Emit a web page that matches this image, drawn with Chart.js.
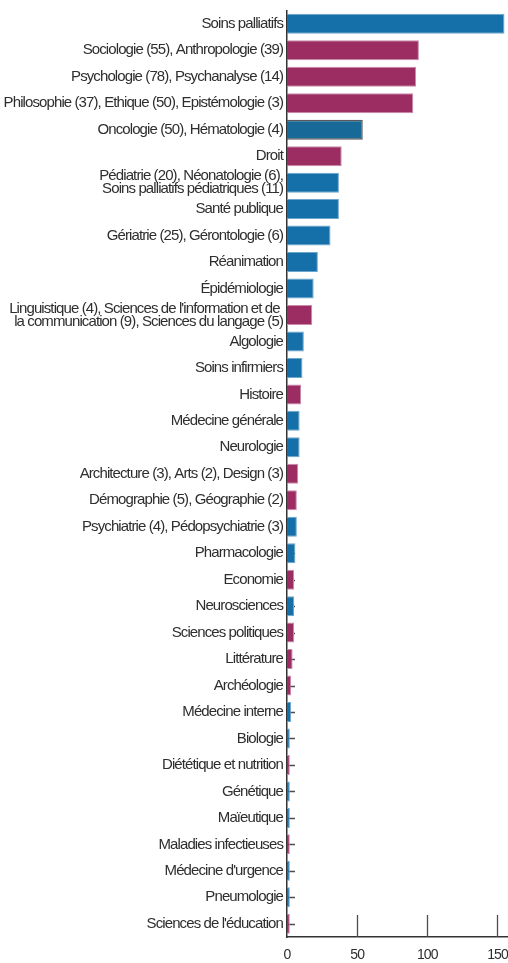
<!DOCTYPE html>
<html lang="fr">
<head>
<meta charset="utf-8">
<title>Disciplines</title>
<script src="https://cdn.jsdelivr.net/npm/chart.js@4.4.0/dist/chart.umd.min.js"></script>
<style>
    html, body { margin: 0; padding: 0; background: #ffffff; }
    canvas { display: block; }
</style>
</head>
<body>
<canvas id="chart" width="508" height="963"></canvas>
<script>
// Disciplines (les libellés longs passent à la ligne avec \n)
const categories = [
    'Soins palliatifs',
    'Sociologie (55), Anthropologie (39)',
    'Psychologie (78), Psychanalyse (14)',
    'Philosophie (37), Ethique (50), Epistémologie (3)',
    'Oncologie (50), Hématologie (4)',
    'Droit',
    'Pédiatrie (20), Néonatologie (6),\nSoins palliatifs pédiatriques (11)',
    'Santé publique',
    'Gériatrie (25), Gérontologie (6)',
    'Réanimation',
    'Épidémiologie',
    "Linguistique (4), Sciences de l'information et de \nla communication (9), Sciences du langage (5)",
    'Algologie',
    'Soins infirmiers',
    'Histoire',
    'Médecine générale',
    'Neurologie',
    'Architecture (3), Arts (2), Design (3)',
    'Démographie (5), Géographie (2)',
    'Psychiatrie (4), Pédopsychiatrie (3)',
    'Pharmacologie',
    'Economie',
    'Neurosciences',
    'Sciences politiques',
    'Littérature',
    'Archéologie',
    'Médecine interne',
    'Biologie',
    'Diététique et nutrition',
    'Génétique',
    'Maïeutique',
    'Maladies infectieuses',
    "Médecine d'urgence",
    'Pneumologie',
    "Sciences de l'éducation"
];

const values = [
    155, 94, 92, 90, 54, 39, 37, 37, 31, 22, 19, 18, 12, 11, 10, 9, 9, 8,
    7, 7, 6, 5, 5, 5, 4, 3, 3, 2, 2, 2, 2, 2, 2, 2, 2
];

// 'sante' = bleu, 'shs' = magenta
const groups = [
    'sante', 'shs', 'shs', 'shs', 'sante', 'shs', 'sante', 'sante', 'sante',
    'sante', 'sante', 'shs', 'sante', 'sante', 'shs', 'sante', 'sante', 'shs',
    'shs', 'sante', 'sante', 'shs', 'sante', 'shs', 'shs', 'shs', 'sante',
    'sante', 'shs', 'sante', 'sante', 'shs', 'sante', 'sante', 'shs'
];

const xTicks = [0, 50, 100, 150];
const xMax = 156.8;
const highlighted = 'Oncologie (50), Hématologie (4)';

const COLORS = {
    sante: '#1570aa',
    shs: '#9b2d63',
    highlight: '#176a97',
    santeEdge: '#6ea5cc',
    shsEdge: '#c98aab',
    highlightEdge: '#5a5a5a',
    text: '#2e2e2e',
    axis: '#333333'
};

const FONT = {
    family: "'Liberation Sans', Arial, sans-serif",
    size: 15
};
// pas de police étroite installée : on resserre les lettres
const LETTER_SPACING = '-0.9px';

const labels = categories.map(c => c.includes('\n') ? c.split('\n') : c);

const fillColors = categories.map((c, i) => c === highlighted ? COLORS.highlight : COLORS[groups[i]]);
const edgeColors = categories.map((c, i) => c === highlighted ? COLORS.highlightEdge : COLORS[groups[i] + 'Edge']);
const edgeWidths = categories.map(c => c === highlighted ? 1.5 : 1);

const narrowText = {
    id: 'narrowText',
    beforeLayout(chart) { chart.ctx.letterSpacing = LETTER_SPACING; },
    beforeDraw(chart) { chart.ctx.letterSpacing = LETTER_SPACING; }
};

// petits traits de graduation tournés vers l'intérieur, sous les barres
const innerTicks = {
    id: 'innerTicks',
    beforeDatasetsDraw(chart) {
        const { ctx, chartArea, scales: { x, y } } = chart;
        ctx.save();
        ctx.strokeStyle = '#4d4d4d';
        ctx.lineWidth = 1.3;
        ctx.beginPath();
        y.ticks.forEach((t, i) => {
            const py = Math.round(y.getPixelForTick(i)) + 0.5;
            ctx.moveTo(chartArea.left, py);
            ctx.lineTo(chartArea.left + 8, py);
        });
        x.ticks.forEach(t => {
            if (t.value === 0) return;
            const px = Math.round(x.getPixelForValue(t.value)) + 0.5;
            ctx.moveTo(px, chartArea.bottom);
            ctx.lineTo(px, chartArea.bottom - 22);
        });
        ctx.stroke();
        ctx.restore();
    }
};

new Chart(document.getElementById('chart'), {
    type: 'bar',
    data: {
        labels: labels,
        datasets: [{
            data: values,
            backgroundColor: fillColors,
            borderColor: edgeColors,
            borderWidth: edgeWidths,
            borderSkipped: 'start',
            barPercentage: 0.755,
            categoryPercentage: 1
        }]
    },
    options: {
        responsive: false,
        animation: false,
        indexAxis: 'y',
        layout: { padding: { top: 8, right: 1, left: 0, bottom: 0 } },
        scales: {
            y: {
                grid: { display: false, drawTicks: false },
                border: { display: true, color: COLORS.axis, width: 1.5 },
                ticks: {
                    color: COLORS.text,
                    font: { ...FONT, lineHeight: 0.88 },
                    padding: 4,
                    autoSkip: false
                },
                afterFit(scale) { scale.width = 287; }
            },
            x: {
                min: 0,
                max: xMax,
                grid: { display: false, drawTicks: false },
                border: { display: true, color: COLORS.axis, width: 1.5 },
                ticks: {
                    color: COLORS.text,
                    font: { ...FONT, size: 14 },
                    padding: 10,
                    maxRotation: 0
                },
                afterBuildTicks(scale) {
                    scale.ticks = xTicks.map(v => ({ value: v }));
                },
                afterFit(scale) {
                    scale.height = 26;
                    scale.paddingLeft = 0;
                    scale.paddingRight = 0;
                }
            }
        },
        plugins: {
            legend: { display: false },
            tooltip: { enabled: false }
        }
    },
    plugins: [narrowText, innerTicks]
});
</script>
</body>
</html>
